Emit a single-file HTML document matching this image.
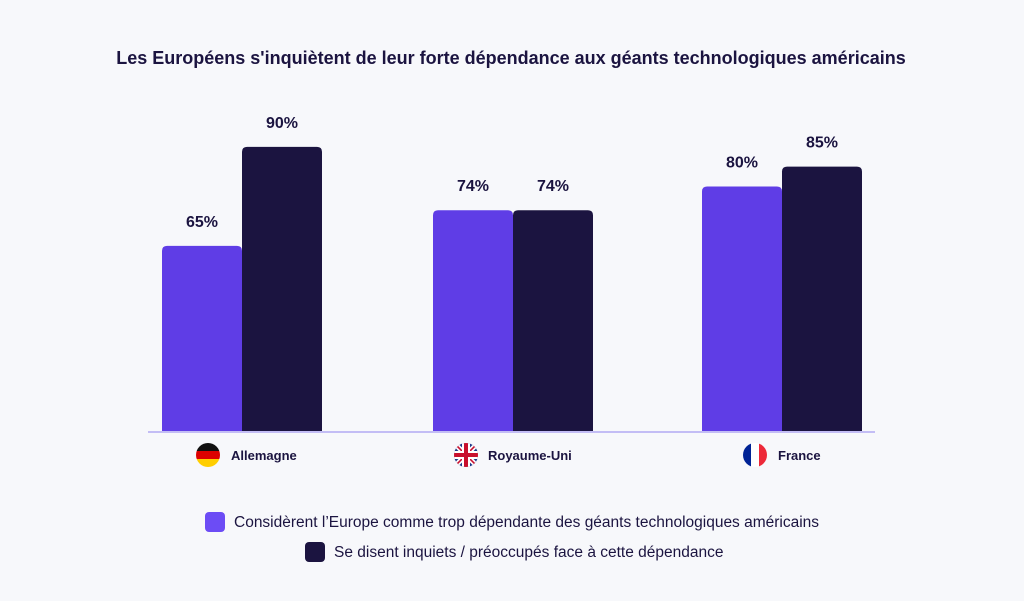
<!DOCTYPE html>
<html><head><meta charset="utf-8"><style>
body{margin:0;width:1024px;height:596px;background:#f7f8fb;font-family:"Liberation Sans",sans-serif;overflow:hidden}
</style></head><body>
<svg id="chart" width="1024" height="596" viewBox="0 0 1024 596" xmlns="http://www.w3.org/2000/svg">
<rect width="1024" height="596" fill="#f7f8fb"/>
<text x="511" y="64" text-anchor="middle" font-size="18" font-weight="bold" fill="#1b1440" letter-spacing="0">Les Européens s'inquiètent de leur forte dépendance aux géants technologiques américains</text>
<g id="bars"></g>
<line x1="148" y1="432" x2="875" y2="432" stroke="#c3bdf5" stroke-width="2"/>
<g>
<clipPath id="cde"><circle cx="208" cy="455" r="12"/></clipPath>
<g clip-path="url(#cde)"><rect x="196" y="443" width="24" height="8" fill="#111"/><rect x="196" y="451" width="24" height="8" fill="#dd0000"/><rect x="196" y="459" width="24" height="8" fill="#ffce00"/></g></g>
<g>
<clipPath id="cuk"><circle cx="466" cy="455" r="12"/></clipPath>
<g clip-path="url(#cuk)"><rect x="454" y="443" width="24" height="24" fill="#1e3a8a"/>
<path d="M454 443 L478 467 M478 443 L454 467" stroke="#fff" stroke-width="5"/>
<path d="M454 443 L478 467 M478 443 L454 467" stroke="#c8102e" stroke-width="1.6"/>
<rect x="454" y="451" width="24" height="8" fill="#fff"/><rect x="462" y="443" width="8" height="24" fill="#fff"/>
<rect x="454" y="453" width="24" height="4" fill="#c8102e"/><rect x="464" y="443" width="4" height="24" fill="#c8102e"/></g></g>
<g>
<clipPath id="cfr"><circle cx="755" cy="455" r="12"/></clipPath>
<g clip-path="url(#cfr)"><rect x="743" y="443" width="8" height="24" fill="#002395"/><rect x="751" y="443" width="8" height="24" fill="#fff"/><rect x="759" y="443" width="8" height="24" fill="#ed2939"/></g></g>
<text x="231" y="460" font-size="13" font-weight="bold" fill="#1b1440">Allemagne</text>
<text x="488" y="460" font-size="13" font-weight="bold" fill="#1b1440">Royaume-Uni</text>
<text x="778" y="460" font-size="13" font-weight="bold" fill="#1b1440">France</text>
<g>
<rect x="205" y="512" width="20" height="20" rx="4" fill="#6c4cf5"/>
<text x="234" y="527" font-size="15.5" fill="#1b1440">Considèrent l’Europe comme trop dépendante des géants technologiques américains</text></g>
<g>
<rect x="305" y="542" width="20" height="20" rx="4" fill="#1b1440"/>
<text x="334" y="557" font-size="15.5" fill="#1b1440">Se disent inquiets / préoccupés face à cette dépendance</text></g>
</svg>
<script>
const categories=["Allemagne","Royaume-Uni","France"];
const seriesConsiderent=[65,74,80];
const seriesInquiets=[90,74,85];
const valueLabelsConsiderent=["65%","74%","80%"];
const valueLabelsInquiets=["90%","74%","85%"];
const NS="http://www.w3.org/2000/svg";
const baseY=432,yMin=18,pxPer=3.96;
function y(v){return baseY-(v-yMin)*pxPer;}
const groupStart=[162,433,702];
function x(i,s){return groupStart[i]+s*80;}
const g=document.getElementById('bars');
function bar(i,s,v,label,color,name){
  const top=y(v),w=80,r=5,x0=x(i,s);
  const p=document.createElementNS(NS,'path');
  p.setAttribute('d',`M${x0} ${baseY} V${top+r} Q${x0} ${top} ${x0+r} ${top} H${x0+w-r} Q${x0+w} ${top} ${x0+w} ${top+r} V${baseY} Z`);
  p.setAttribute('fill',color);
  
  
  g.appendChild(p);
  const t=document.createElementNS(NS,'text');
  t.setAttribute('x',x0+w/2);t.setAttribute('y',top-19);
  t.setAttribute('text-anchor','middle');t.setAttribute('font-size','16');
  t.setAttribute('font-weight','bold');t.setAttribute('fill','#1b1440');
  t.textContent=label;
  
  
  g.appendChild(t);
}
categories.forEach((c,i)=>{
  bar(i,0,seriesConsiderent[i],valueLabelsConsiderent[i],'#5f3de6','bar-considerent-'+i);
  bar(i,1,seriesInquiets[i],valueLabelsInquiets[i],'#1b1440','bar-inquiets-'+i);
});
</script>
</body></html>
